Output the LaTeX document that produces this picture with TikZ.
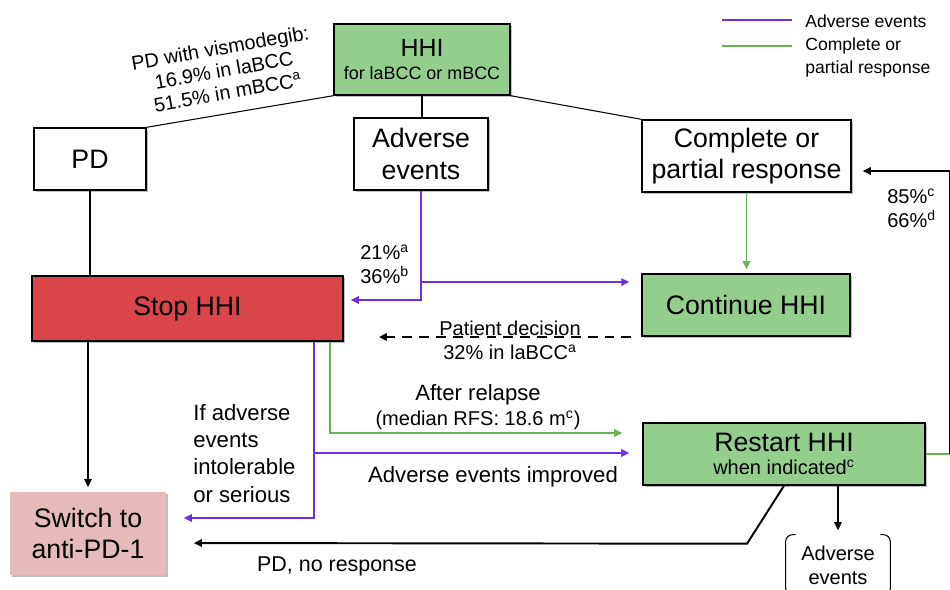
\documentclass[tikz,border=0pt]{standalone}
\usepackage{fontspec}
\setmainfont{Liberation Sans}
\usetikzlibrary{arrows.meta,shadows,calc}

\definecolor{hhigreen}{RGB}{147,206,141}
\definecolor{stopred}{RGB}{217,69,72}
\definecolor{switchpink}{RGB}{230,185,186}
\definecolor{aepurple}{RGB}{112,48,224}
\definecolor{crgreen}{RGB}{106,178,86}

\newcommand{\fs}[2]{\fontsize{#1}{#2}\selectfont}

\tikzset{
  box/.style 2 args={draw=black, line width=0.8pt, fill=white, align=center, inner sep=0pt,
    minimum width=#1*\px, minimum height=#2*\px,
    drop shadow={shadow xshift=1.1pt, shadow yshift=-1.1pt, fill=black, opacity=0.25}},
  bigtext/.style={font=\fs{15.2}{17.8}},
  lbl/.style={align=center, inner sep=0pt},
  blk/.style={draw=black, line width=1.1pt},
  aeline/.style={draw=aepurple, line width=1.1pt},
  crline/.style={draw=crgreen, line width=1.1pt},
  dashline/.style={draw=black, line width=1.3pt, dash pattern=on 5.6pt off 4pt},
  arr/.style={-{Triangle[length=4.6pt,width=4.2pt]}},
}

\begin{document}
\begin{tikzpicture}[x=0.02cm, y=-0.02cm]
      \def\px{0.02cm}
      \useasboundingbox (0,0) rectangle (950,589);

      % Boxes
      \node[box={176}{71}, fill=hhigreen, font=\fs{10.2}{13.6}] (hhi) at (422,59.5)
        {{\fs{14.2}{17}HHI}\\for laBCC or mBCC};
      \node[box={112}{62}, bigtext] (pd) at (90,159) {PD};
      \node[box={134}{72}, bigtext] (ae) at (421,154) {Adverse\\events};
      \node[box={209}{72}, bigtext] (cpr) at (746.5,156) {Complete or\\partial response};
      \node[box={311}{65}, bigtext, fill=stopred] (stop) at (187.5,308.5) {Stop HHI};
      \node[box={208}{62}, bigtext, fill=hhigreen] (cont) at (746,305) {Continue HHI};
      \node[box={282}{62}, fill=hhigreen, font=\fs{11.4}{13.1}] (restart) at (784,454)
        {{\fs{15.2}{17.8}Restart HHI}\\when indicated\textsuperscript{c}};
      \node[box={156}{83}, bigtext, fill=switchpink, draw=none] (switch) at (88,533.5)
        {Switch to\\anti-PD-1};
      \node[lbl, minimum width=104*\px, minimum height=60*\px, font=\fs{11.4}{13.8}] (ae2) at (838,565)
        {Adverse\\events};

      % Bracket round the last box
      \draw[line width=0.6pt, rounded corners=4pt]
        ($(ae2.north west)+(10,0)$) -- (ae2.north west) -- (ae2.south west) -- ++(10,0);
      \draw[line width=0.6pt, rounded corners=4pt]
        ($(ae2.north east)+(-10,0)$) -- (ae2.north east) -- (ae2.south east) -- ++(-10,0);

      % From HHI
      \draw[line width=0.6pt] (hhi.south west) -- (pd.north east);
      \draw[line width=0.6pt] (hhi.south east) -- (cpr.north west);
      \draw[line width=0.9pt] (hhi.south) -- (hhi.south |- ae.north);
      \node[lbl, rotate=10, font=\fs{11.3}{12.8}] (pdlbl) at (224,70)
        {PD with vismodegib:\\16.9\% in laBCC\\51.5\% in mBCC\textsuperscript{a}};

      % PD and stop
      \draw[blk] (pd.south) -- (pd.south |- stop.north);
      \draw[blk, arr, shorten >=2.3pt] (switch.north |- stop.south) -- (switch.north);

      % Adverse events
      \draw[aeline, arr, shorten >=4pt] (ae.south) |- (stop.east |- 0,300);
      \draw[aeline, arr, shorten >=6.8pt] (ae.south |- 0,282) -- (cont.west |- 0,282);
      \node[lbl, anchor=west, align=left, font=\fs{11.4}{13.7}] (aepct) at (360,264)
        {21\%\textsuperscript{a}\\36\%\textsuperscript{b}};

      % Response
      \draw[crline, arr, shorten >=2.3pt] (cpr.south) -- (cpr.south |- cont.north);
      \draw[dashline, arr, shorten <=5.7pt, shorten >=20pt]
        (cont.west |- 0,337) -- (stop.east |- 0,337);
      \node[lbl, font=\fs{11.4}{13.7}] (patient) at (510,340)
        {Patient decision\\32\% in laBCC\textsuperscript{a}};

      % Stop to restart and switch
      \coordinate (crleft) at ($(stop.south east)+(-14,0)$);
      \coordinate (aeleft) at ($(stop.south east)+(-30,0)$);
      \draw[crline, arr, shorten >=11.4pt] (crleft) |- (restart.west |- 0,433);
      \draw[aeline, arr, shorten >=7.4pt] (aeleft |- 0,453) -- (restart.west |- 0,453);
      \draw[aeline, arr, shorten >=9.7pt] (aeleft) |- (switch.east |- 0,518);
      \node[lbl, font=\fs{12.6}{15}] (relapse) at (478,395) {After relapse};
      \node[lbl, font=\fs{11.4}{13.7}] (rfs) at (478,420) {(median RFS: 18.6 m\textsuperscript{c})};
      \node[lbl, font=\fs{12.6}{15}] (improved) at (493,477) {Adverse events improved};
      \node[lbl, anchor=west, align=left, font=\fs{12.6}{15.4}] (intol) at (193,453.5)
        {If adverse\\events\\intolerable\\or serious};

      % From restart
      \draw[blk, arr, shorten >=15.4pt] (restart.south) -- ($(restart.south)+(-37,58)$)
        -- (switch.east |- 0,543);
      \node[lbl, font=\fs{12.2}{14.6}] (nores) at (337,566) {PD, no response};
      \draw[blk, arr, shorten >=2.5pt] (ae2.north |- restart.south) -- (ae2.north);
      \draw[crline, line width=0.8pt] (restart.east) -- ++(24,0) coordinate (loopc);
      \draw[blk, arr, shorten >=6.3pt] (loopc) |- (cpr.east |- 0,171);
      \node[lbl, anchor=west, align=left, font=\fs{11.4}{13.7}] (cpct) at (887,208)
        {85\%\textsuperscript{c}\\66\%\textsuperscript{d}};

      % Legend
      \draw[aeline] (722,20) -- (792,20);
      \draw[crline] (722,46) -- (792,46);
      \node[lbl, anchor=west, font=\fs{10}{13}] (legae) at (805,21) {Adverse events};
      \node[lbl, anchor=west, align=left, font=\fs{10}{13}] (legcr) at (805,57.5)
        {Complete or\\partial response};
    \end{tikzpicture}
\end{document}
